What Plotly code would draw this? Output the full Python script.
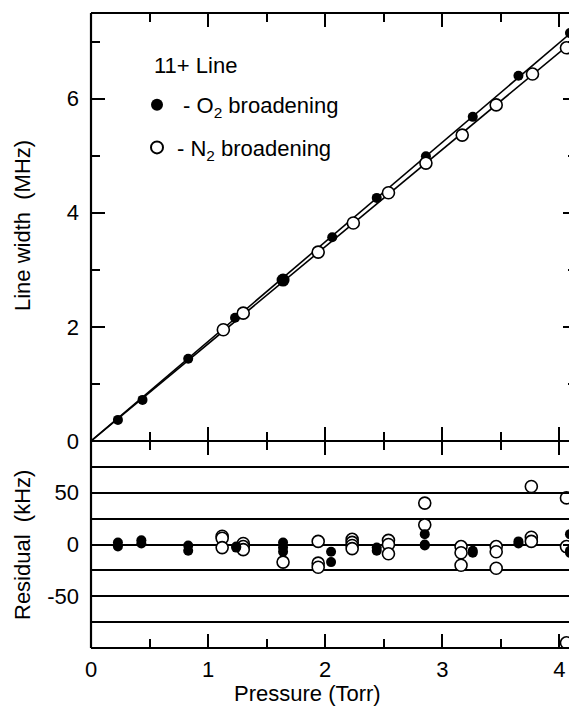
import numpy as np
import plotly.graph_objects as go
from plotly.subplots import make_subplots

# ---- data ----
o2_pressure = [0.23, 0.44, 0.83, 1.23, 1.64, 2.06, 2.44, 2.86, 3.26, 3.65, 4.09]
o2_width = [0.37, 0.72, 1.44, 2.16, 2.82, 3.57, 4.26, 4.99, 5.68, 6.40, 7.15]
n2_pressure = [1.13, 1.30, 1.94, 2.24, 2.54, 2.86, 3.17, 3.46, 3.77, 4.06]
n2_width = [1.95, 2.24, 3.31, 3.82, 4.35, 4.87, 5.36, 5.89, 6.43, 6.89]

o2_res_p = [0.23, 0.23, 0.43, 0.43, 0.83, 0.83, 1.24, 1.24, 1.64, 1.64, 1.64,
            2.05, 2.05, 2.44, 2.44, 2.85, 2.85, 2.85, 3.26, 3.26, 3.65, 3.65,
            4.09, 4.09, 4.09]
o2_res = [2, -2, 4, 1, -1, -6, -2, -3, 2, -3, -7,
          -7, -17, -3, -6, 10, 0, -1, -6, -8, 3, 1,
          10, -6, -8]
n2_res_p = [1.12, 1.12, 1.12, 1.30, 1.30, 1.30, 1.64, 1.94, 1.94, 1.94,
            2.23, 2.23, 2.23, 2.23, 2.54, 2.54, 2.54, 2.85, 2.85,
            3.16, 3.16, 3.16, 3.46, 3.46, 3.46, 3.76, 3.76, 3.76,
            4.06, 4.06, 4.06]
n2_res = [8, 6, -3, 1, -2, -5, -17, 3, -18, -22,
          5, 2, -1, -4, 4, 0, -9, 40, 19,
          -2, -8, -20, -2, -7, -23, 56, 7, 3,
          45, -2, -95]

x_range = [0, 4.15]
width_ticks = [0, 2, 4, 6]
res_ticks = [-50, 0, 50]
res_ticktext = ["-50", "0", "50"]
res_minor = [-75, -25, 25, 75]

# least-squares fits through the origin
def slope(x, y):
    x = np.asarray(x); y = np.asarray(y)
    return float((x * y).sum() / (x * x).sum())

s_o2 = slope(o2_pressure, o2_width)
s_n2 = slope(n2_pressure, n2_width)
fit_x = np.array([0.0, x_range[1] + 0.05])

FONT = "Arial, Liberation Sans, sans-serif"
FS = 22
OFF = 8                      # page body margin of the browser
W, H = 577 - OFF, 709 - OFF
L, R, T, B = 91 - OFF, 0, 13 - OFF, 61
PW, PH = W - L - R, H - T - B
SPLIT = 0.326

def px_x(p):  # screen pixel x -> paper
    return (p - OFF - L) / PW

def px_y(p):  # screen pixel y -> paper
    return (H - B - (p - OFF)) / PH

fig = make_subplots(rows=2, cols=1, shared_xaxes=True, vertical_spacing=0,
                    row_heights=[1 - SPLIT, SPLIT])

for s in (s_o2, s_n2):
    fig.add_trace(go.Scatter(x=fit_x, y=s * fit_x, mode="lines",
                             line=dict(color="black", width=1.6), showlegend=False,
                             hoverinfo="skip"), row=1, col=1)

o2_sizes = [10] * len(o2_pressure)
o2_sizes[4] = 13
fig.add_trace(go.Scatter(x=o2_pressure, y=o2_width, mode="markers",
                         name=" - O<sub>2</sub> broadening", legendgroup="a", legendrank=1,
                         marker=dict(symbol="circle", size=o2_sizes, color="black",
                                     opacity=1, line=dict(color="black", width=0))),
              row=1, col=1)
fig.add_trace(go.Scatter(x=n2_pressure, y=n2_width, mode="markers",
                         name="- N<sub>2</sub> broadening", legendgroup="b", legendrank=2,
                         marker=dict(symbol="circle", size=12, color="white", opacity=1,
                                     line=dict(color="black", width=1.6))),
              row=1, col=1)

fig.add_trace(go.Scatter(x=n2_res_p, y=n2_res, mode="markers", showlegend=False,
                         marker=dict(symbol="circle", size=12, color="white",
                                     line=dict(color="black", width=1.6))),
              row=2, col=1)
fig.add_trace(go.Scatter(x=o2_res_p, y=o2_res, mode="markers", showlegend=False,
                         marker=dict(symbol="circle", size=10, color="black",
                                     line=dict(color="black", width=0))),
              row=2, col=1)

tickfont = dict(family=FONT, size=FS, color="black")
common_x = dict(range=x_range, ticks="inside", dtick=1, tick0=0, ticklen=14,
                tickwidth=1.6, tickcolor="black", mirror="ticks", showline=False,
                showgrid=False, zeroline=False, automargin=False,
                minor=dict(dtick=0.5, tick0=0, ticks="inside", ticklen=9,
                           tickwidth=1.6, tickcolor="black", showgrid=False))
fig.update_xaxes(**common_x)
fig.update_xaxes(showticklabels=False, row=1, col=1)
fig.update_xaxes(showticklabels=True, tickfont=tickfont, ticklabelstandoff=6,
                 row=2, col=1)

fig.update_yaxes(range=[0, 7.5], tickvals=width_ticks, ticks="inside", ticklen=14,
                 tickwidth=1.6, tickcolor="black", mirror="ticks", showline=False,
                 showgrid=False, zeroline=False, ticklabelstandoff=11, automargin=False,
                 tickfont=tickfont,
                 minor=dict(dtick=1, tick0=0, ticks="inside", ticklen=9,
                            tickwidth=1.6, tickcolor="black", showgrid=False),
                 row=1, col=1)
fig.update_yaxes(range=[-100, 100], tickvals=res_ticks, ticktext=res_ticktext,
                 ticks="inside", ticklen=14,
                 tickwidth=1.6, tickcolor="black", mirror="ticks", showline=False,
                 showgrid=True, gridcolor="black", gridwidth=1.6, zeroline=False,
                 ticklabelstandoff=11, automargin=False, tickfont=tickfont,
                 minor=dict(tickvals=res_minor, ticks="inside", ticklen=9,
                            tickwidth=1.6, tickcolor="black", showgrid=True,
                            gridcolor="black", gridwidth=1.6),
                 row=2, col=1)

# frame lines: left, top, middle, bottom (right side lies beyond the crop)
for ln in [dict(x0=0, x1=0, y0=0, y1=1),
           dict(x0=0, x1=1, y0=1, y1=1),
           dict(x0=0, x1=1, y0=SPLIT, y1=SPLIT),
           dict(x0=0, x1=1, y0=0, y1=0)]:
    fig.add_shape(type="line", xref="paper", yref="paper",
                  line=dict(color="black", width=2.2), **ln)

textfont = dict(family=FONT, size=FS, color="black")
fig.add_annotation(text="Pressure (Torr)", xref="paper", yref="paper",
                   x=px_x(307), y=px_y(693), xanchor="center", yanchor="middle",
                   showarrow=False, font=textfont)
fig.add_annotation(text="Line width  (MHz)", xref="paper", yref="paper",
                   x=px_x(22), y=px_y(226), xanchor="center", yanchor="middle",
                   textangle=-90, showarrow=False, font=textfont)
fig.add_annotation(text="Residual  (kHz)", xref="paper", yref="paper",
                   x=px_x(22), y=px_y(545), xanchor="center", yanchor="middle",
                   textangle=-90, showarrow=False, font=textfont)
fig.add_annotation(text="11+ Line", xref="paper", yref="paper",
                   x=px_x(152), y=px_y(65), xanchor="left", yanchor="middle",
                   showarrow=False, font=textfont)

fig.update_layout(
    width=W, height=H,
    margin=dict(l=L, r=R, t=T, b=B),
    paper_bgcolor="white", plot_bgcolor="white",
    font=dict(family=FONT, size=FS, color="black"),
    showlegend=True,
    legend=dict(x=px_x(137), y=px_y(84), xanchor="left", yanchor="top",
                bgcolor="rgba(0,0,0,0)", traceorder="grouped", tracegroupgap=11,
                font=dict(family=FONT, size=FS, color="black"),
                itemsizing="constant"),
)

fig.write_html("out.html")
